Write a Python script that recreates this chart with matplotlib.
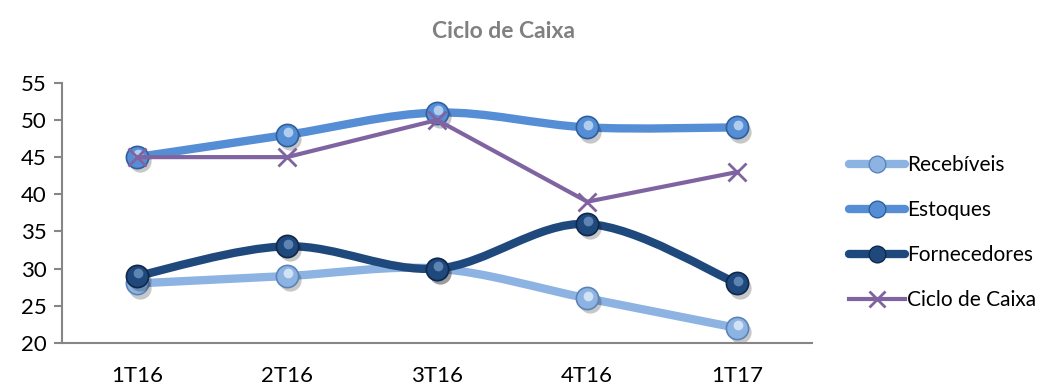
import matplotlib.pyplot as plt
import matplotlib.transforms as mtransforms
from matplotlib.path import Path
from matplotlib.patches import PathPatch
from matplotlib.lines import Line2D

plt.rcParams['font.family'] = ['Lato', 'DejaVu Sans']

categories = ['1T16', '2T16', '3T16', '4T16', '1T17']
recebiveis = [28, 29, 30, 26, 22]
estoques = [45, 48, 51, 49, 49]
fornecedores = [29, 33, 30, 36, 28]
ciclo = [45, 45, 50, 39, 43]


def smooth_path(xs, ys):
    # bezier segments like Excel's "smoothed line"
    pts = list(zip(xs, ys))
    n = len(pts)
    verts = [pts[0]]
    codes = [Path.MOVETO]
    for i in range(n - 1):
        p0 = pts[i - 1] if i > 0 else pts[i]
        p1 = pts[i]
        p2 = pts[i + 1]
        p3 = pts[i + 2] if i + 2 < n else pts[i + 1]
        c1 = (p1[0] + (p2[0] - p0[0]) / 6, p1[1] + (p2[1] - p0[1]) / 6)
        c2 = (p2[0] - (p3[0] - p1[0]) / 6, p2[1] - (p3[1] - p1[1]) / 6)
        verts += [c1, c2, p2]
        codes += [Path.CURVE4] * 3
    return Path(verts, codes)


def sphere_series(ax, xs, ys, color, dark, light, z):
    ax.add_patch(PathPatch(smooth_path(xs, ys), fill=False, edgecolor=color,
                           lw=6, capstyle='round', joinstyle='round', zorder=z))
    shadow = ax.transData + mtransforms.ScaledTranslation(2 / 72, -3 / 72, ax.figure.dpi_scale_trans)
    ax.plot(xs, ys, 'o', ms=16, color='#000000', alpha=0.22, mec='none',
            transform=shadow, zorder=z + 0.1)
    ax.plot(xs, ys, 'o', ms=16, color=color, mec=dark, mew=1.2, zorder=z + 0.2)
    hl = ax.transData + mtransforms.ScaledTranslation(0.5 / 72, 2 / 72, ax.figure.dpi_scale_trans)
    ax.plot(xs, ys, 'o', ms=7, color=light, mec='none', alpha=0.8,
            transform=hl, zorder=z + 0.3)


fig = plt.figure(figsize=(10.47, 3.87), dpi=100)
ax = fig.add_axes([0.059, 0.114, 0.717, 0.672])

x = list(range(len(categories)))
sphere_series(ax, x, recebiveis, '#8DB3E2', '#5B84B8', '#E3EEFA', 2)
sphere_series(ax, x, estoques, '#558ED5', '#2F5F9E', '#C9DDF5', 3)
sphere_series(ax, x, fornecedores, '#1F497D', '#10284A', '#6F93C2', 4)
ax.plot(x, ciclo, color='#8064A2', lw=3, marker='x', ms=13, mew=2, zorder=6)

ax.set_xlim(-0.5, 4.5)
ax.set_ylim(20, 55)
ax.set_yticks(range(20, 56, 5))
ax.set_xticks(x)
ax.set_xticklabels(categories)
ax.tick_params(axis='x', length=0, pad=17, labelsize=16)
ax.tick_params(axis='y', length=6, width=1.5, color='#868686', pad=5, labelsize=16)
for s in ['top', 'right']:
    ax.spines[s].set_visible(False)
for s in ['left', 'bottom']:
    ax.spines[s].set_color('#868686')
    ax.spines[s].set_linewidth(1.5)

fig.text(0.481, 0.918, 'Ciclo de Caixa', ha='center', va='center',
         fontsize=16.5, fontweight='bold', color='#808080')

handles = [
    Line2D([], [], color='#8DB3E2', lw=6, marker='o', ms=12, mfc='#8DB3E2', mec='#5B84B8', solid_capstyle='round'),
    Line2D([], [], color='#558ED5', lw=6, marker='o', ms=12, mfc='#558ED5', mec='#2F5F9E', solid_capstyle='round'),
    Line2D([], [], color='#1F497D', lw=6, marker='o', ms=12, mfc='#1F497D', mec='#10284A', solid_capstyle='round'),
    Line2D([], [], color='#8064A2', lw=3, marker='x', ms=12, mew=2),
]
fig.legend(handles, ['Recebíveis', 'Estoques', 'Fornecedores', 'Ciclo de Caixa'],
           loc='center left', bbox_to_anchor=(0.793, 0.398), frameon=False,
           fontsize=15, handlelength=2.7, handletextpad=0.1, labelspacing=1.2)

plt.savefig('out.png')
